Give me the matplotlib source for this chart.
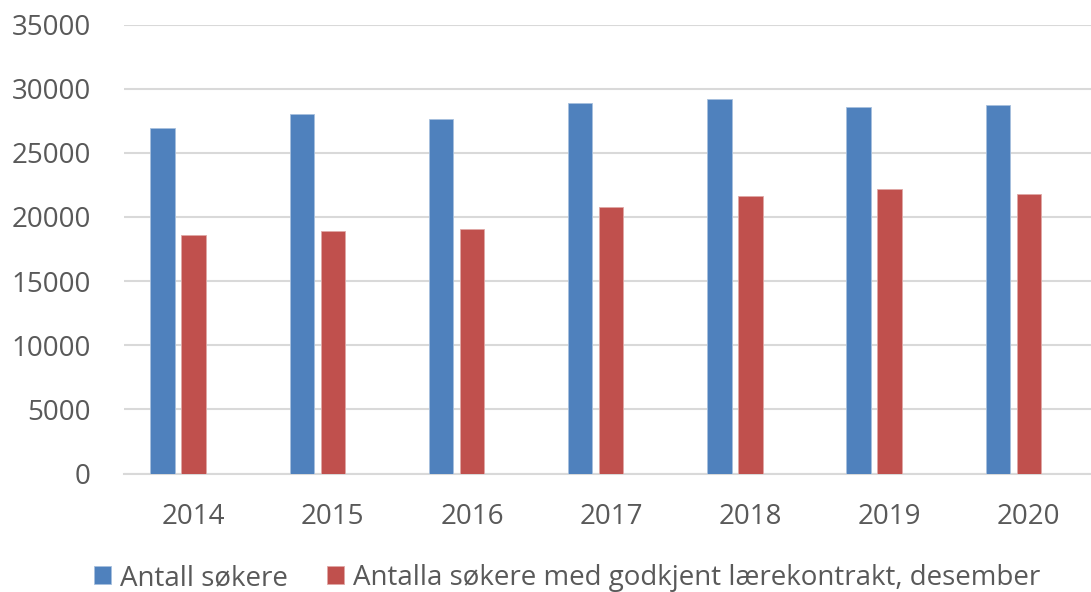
import matplotlib.pyplot as plt
import numpy as np

# Values
years = ['2014', '2015', '2016', '2017', '2018', '2019', '2020']
antall_sokere = [26950, 28020, 27660, 28880, 29220, 28590, 28750]
godkjent_kontrakt = [18570, 18930, 19040, 20810, 21640, 22210, 21770]
series_labels = ['Antall søkere', 'Antalla søkere med godkjent lærekontrakt, desember']

blue = '#4f81bd'
red = '#c0504d'
text_color = '#595959'
grid_color = '#d9d9d9'

plt.rcParams['font.family'] = ['Open Sans', 'DejaVu Sans']

fig = plt.figure(figsize=(10.91, 5.92), dpi=100)
ax = fig.add_axes([124 / 1091, 1 - 473.5 / 592, 1 - 124 / 1091, (473.5 - 24.5) / 592])

x = np.arange(len(years))
bar_w = 0.176
step = 0.223

# Excel-style cluster of three slots, third one empty
ax.bar(x - step, antall_sokere, width=bar_w, color=blue, edgecolor='#a7c0de', linewidth=0.6,
       label=series_labels[0], zorder=3)
ax.bar(x, godkjent_kontrakt, width=bar_w, color=red, edgecolor='#e0a8a6', linewidth=0.6,
       label=series_labels[1], zorder=3)

ax.set_ylim(0, 35000)
ax.set_xlim(-0.5, -0.5 + (1091 - 124) / 139.2)
ax.set_yticks(np.arange(0, 35001, 5000))
ax.set_xticks(x)
ax.set_xticklabels(years)

ax.grid(axis='y', color=grid_color, linewidth=1.5, zorder=0)
ax.set_axisbelow(True)
for side in ['top', 'right', 'left']:
    ax.spines[side].set_visible(False)
ax.spines['bottom'].set_color(grid_color)
ax.spines['bottom'].set_linewidth(1.5)

ax.tick_params(axis='both', length=0, labelsize=20, colors=text_color)
ax.tick_params(axis='y', pad=24)
ax.tick_params(axis='x', pad=21)

fig.legend(loc='center', bbox_to_anchor=(567 / 1091, 1 - 578 / 592), ncol=2, frameon=False,
           fontsize=20, labelcolor=text_color, handlelength=0.62, handleheight=0.62,
           handletextpad=0.33, columnspacing=1.4, borderaxespad=0)

plt.savefig('out.png', dpi=100)
